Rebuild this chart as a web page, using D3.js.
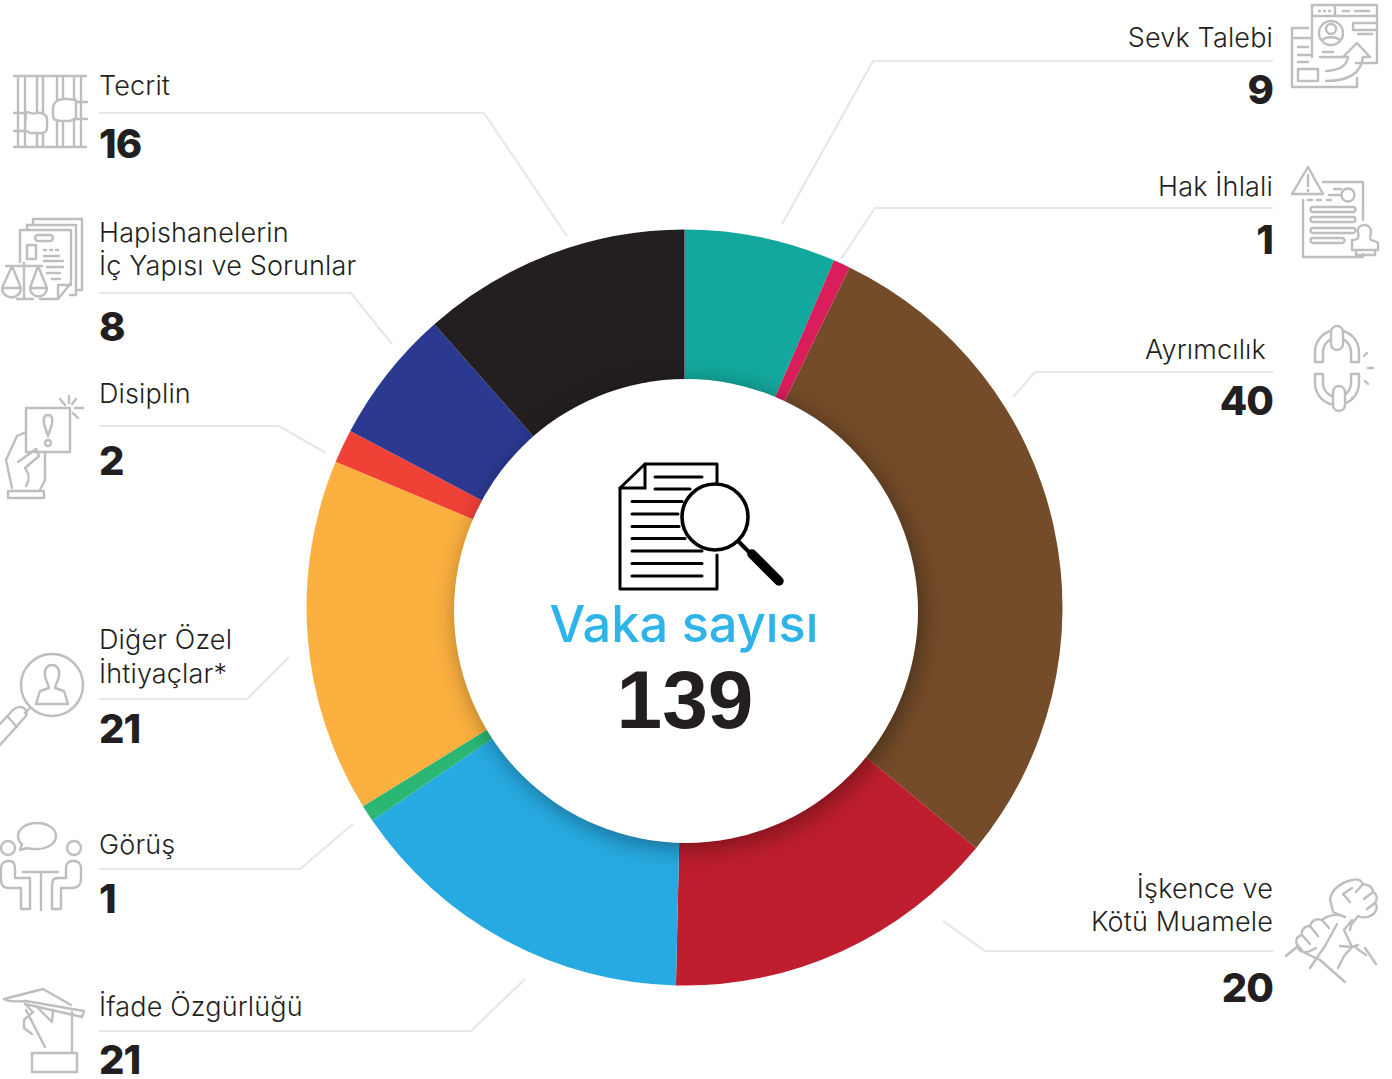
<!DOCTYPE html>
<html>
<head>
<meta charset="utf-8">
<script src="https://cdn.jsdelivr.net/npm/d3@7"></script>
<style>
html, body { margin: 0; padding: 0; background: #fff; }
.label { font-family: Inter, sans-serif; font-weight: 300; font-size: 27px; letter-spacing: 0.15px; fill: #231f20; }
.num { font-family: Inter, sans-serif; font-weight: 800; font-size: 40px; letter-spacing: -1px; fill: #231f20; }
.leader { fill: none; stroke: #e6e7e8; stroke-width: 2.2; }
.icon * { fill: none; stroke: #bcbec0; stroke-width: 2.4; stroke-linejoin: round; stroke-linecap: round; }
.icon .w { fill: #fff; }
.doc * { fill: none; stroke: #000; stroke-width: 3; stroke-linecap: round; stroke-linejoin: miter; }
</style>
</head>
<body>
<script>
const WIDTH = 1392;
const HEIGHT = 1079;

// clockwise from 12 o'clock
const categories = ['Sevk Talebi', 'Hak İhlali', 'Ayrımcılık', 'İşkence ve Kötü Muamele', 'İfade Özgürlüğü', 'Görüş', 'Diğer Özel İhtiyaçlar*', 'Disiplin', 'Hapishanelerin İç Yapısı ve Sorunlar', 'Tecrit'];
const values = [9, 1, 40, 20, 21, 1, 21, 2, 8, 16];
const total = 139;
const centerTitle = 'Vaka sayısı';
const colors = ['#13a89e', '#d91e5b', '#754c29', '#be1e2d', '#27aae1', '#2bb673', '#fbb040', '#ef4136', '#2b3990', '#231f20'];

// label block layout, same order as categories
const lines = [['Sevk Talebi'], ['Hak İhlali'], ['Ayrımcılık'], ['İşkence ve', 'Kötü Muamele'], ['İfade Özgürlüğü'], ['Görüş'], ['Diğer Özel', 'İhtiyaçlar*'], ['Disiplin'], ['Hapishanelerin', 'İç Yapısı ve Sorunlar'], ['Tecrit']];
const layout = [
    {side: 'r', x: 1273, y: [47], num: 104, leader: [[1273, 61], [873, 61], [782, 224]]},
    {side: 'r', x: 1273, y: [196], num: 254, leader: [[1273, 208], [875, 208], [841, 259]]},
    {side: 'r', x: 1266, y: [359], num: 415, numX: 1273, leader: [[1273, 372], [1035, 372], [1013, 397]]},
    {side: 'r', x: 1273, y: [898, 931], num: 1002, leader: [[1273, 951], [985, 951], [943, 921]]},
    {side: 'l', x: 99, y: [1016], num: 1074, leader: [[99, 1031], [471, 1031], [525, 979]]},
    {side: 'l', x: 99, y: [854], num: 913, leader: [[99, 869], [300, 869], [353, 824]]},
    {side: 'l', x: 99, y: [649, 683], num: 743, leader: [[99, 699], [247, 699], [289, 657]]},
    {side: 'l', x: 99, y: [403], num: 475, leader: [[99, 426], [279, 426], [326, 453]]},
    {side: 'l', x: 99, y: [242, 275], num: 341, leader: [[99, 293], [351, 293], [392, 344]]},
    {side: 'l', x: 99, y: [95], num: 158, leader: [[99, 113], [484, 113], [567, 236]]}
];

const svg = d3.select('body').append('svg')
    .attr('width', WIDTH)
    .attr('height', HEIGHT)
    .style('display', 'block');

const defs = svg.append('defs');
defs.append('filter').attr('id', 'soft')
    .attr('x', '-20%').attr('y', '-20%').attr('width', '140%').attr('height', '140%')
    .append('feGaussianBlur').attr('stdDeviation', 12);

// donut
const pie = d3.pie().sort(null).value(function (d) { return d; });
const arc = d3.arc().innerRadius(215).outerRadius(378);

const donut = svg.append('g').attr('transform', 'translate(684.5,607.5)');
donut.selectAll('path').data(pie(values)).enter().append('path')
    .attr('d', arc)
    .attr('fill', function (d, i) { return colors[i]; });

// the hole sits a little off centre in the original, with a soft shadow under it
svg.append('circle').attr('cx', 690).attr('cy', 616).attr('r', 232)
    .attr('fill', '#000').attr('opacity', 0.38).attr('filter', 'url(#soft)');
svg.append('circle').attr('cx', 686).attr('cy', 611).attr('r', 232).attr('fill', '#fff');

// leaders and labels
const lineGen = d3.line();
const labels = svg.append('g');
layout.forEach(function (l, i) {
    labels.append('path').attr('class', 'leader').attr('d', lineGen(l.leader));
    lines[i].forEach(function (t, j) {
        labels.append('text').attr('class', 'label')
            .attr('x', l.x).attr('y', l.y[j])
            .attr('text-anchor', l.side === 'r' ? 'end' : 'start')
            .text(t);
    });
    labels.append('text').attr('class', 'num')
        .attr('x', l.numX || l.x).attr('y', l.num)
        .attr('text-anchor', l.side === 'r' ? 'end' : 'start')
        .text(values[i]);
});

// centre text
svg.append('text').attr('x', 684).attr('y', 642)
    .attr('text-anchor', 'middle')
    .style('font-family', 'Inter, sans-serif').style('font-weight', 500).style('font-size', '50.5px')
    .attr('fill', '#2fb4e9')
    .text(centerTitle);
svg.append('text').attr('x', 685).attr('y', 728)
    .attr('text-anchor', 'middle')
    .style('font-family', '"Liberation Sans", sans-serif').style('font-weight', 700).style('font-size', '82px')
    .attr('fill', '#231f20')
    .text(total);

// centre document icon
const doc = svg.append('g').attr('class', 'doc');
doc.append('path').attr('d', 'M717,483V464H645L620,488V589H717V555').style('stroke-linejoin', 'round');
doc.append('path').attr('d', 'M645,464V488H620');
[[655, 702, 477], [655, 690, 489], [632, 682, 501.5], [632, 678, 514], [632, 679, 526.5], [632, 685, 538.5], [632, 702, 551], [632, 702, 563.5], [632, 702, 576]].forEach(function (r) {
    doc.append('line').attr('x1', r[0]).attr('x2', r[1]).attr('y1', r[2]).attr('y2', r[2]);
});
doc.append('circle').attr('cx', 715).attr('cy', 517).attr('r', 33).style('stroke-width', 3.6);
doc.append('line').attr('x1', 739).attr('y1', 542).attr('x2', 750).attr('y2', 553).style('stroke-width', 4);
doc.append('line').attr('x1', 752).attr('y1', 554).attr('x2', 779).attr('y2', 581).style('stroke-width', 9.5);

// grey pictograms next to the labels
const icons = svg.append('g').attr('class', 'icon');
function icon(d) { icons.append('path').attr('d', d); }
function iconW(d) { icons.append('path').attr('class', 'w').attr('d', d); }

// Tecrit
icon('M14,76H86M14,147H86M18,76V147M25,76V147M37,76V147M43,76V147M57,76V147M63,76V147M74,76V147M81,76V147');
icon('M14,113H26M14,131H26M75,102H87M75,119H87');
iconW('M26,112C30,112 32,115 36,113C42,112 47,115 47,119V128C47,132 43,134 38,133H30L25,130Z');
iconW('M76,100C70,100 68,98 63,99C56,100 53,104 53,108V116C53,120 57,121 62,121H70L76,118Z');

// Hapishanelerin
icon('M33,225V219H82V290H76M27,230V225H76V295H70');
icon('M20,262V230H71V283L58,299H40M58,299V285H71');
icon('M38,235H50A3,3 0 0 1 50,241H38A3,3 0 0 1 38,235ZM27,245H36V259H27Z');
icon('M44,250H46M50,250H52M56,250H58M44,256H59M44,261H63M47,267H63M47,273H60M52,279H60');
icon('M24,263V297M17,299H33M6,266H42M12,266L2,288H21ZM2,288A9.5,9.5 0 0 0 21,288M38,266L30,288H47ZM30,288A8.5,8.5 0 0 0 47,288');

// Disiplin
icon('M26,408H70V452H26Z');
icon('M48,415C44,415 43,419 44,424L48,436L52,424C53,419 52,415 48,415Z');
icon('M51,443A3,3 0 1 1 45,443A3,3 0 1 1 51,443Z');
icon('M69,396V403M60,399L65,405M76,399L72,404M75,408H83M73,413L78,418');
icon('M26,432L17,436L6,460L12,488M45,452V480L40,490M18,462L36,449L39,456L25,468C30,475 30,480 26,486');
icon('M8,491H44V498H8Z');

// Diğer Özel
icon('M52,654A31,31 0 1 1 52,716A31,31 0 1 1 52,654Z');
icon('M52,665C46,665 44,671 45,676C46,682 49,685 49,688L40,691L36,704H68L64,691L55,688C55,685 58,682 59,676C60,671 58,665 52,665Z');
icon('M30,708L25,713M0,724L13,710C17,706 22,706 25,709C27,712 27,715 25,717L0,745M7,716L17,727');

// Görüş
icon('M37,823C48,823 56,829 56,836C56,843 48,849 37,849C34,849 30,849 27,848L20,850L22,844C19,842 18,839 18,836C18,829 26,823 37,823Z');
icon('M15,848A7,7 0 1 1 1,848A7,7 0 1 1 15,848ZM81,848A7,7 0 1 1 67,848A7,7 0 1 1 81,848Z');
icon('M23,872H58M41,872V910');
icon('M8,861H10C14,861 15,865 15,869V878H30V909H21V888H8C3,888 1,884 1,880V868C1,864 4,861 8,861Z');
icon('M74,861H72C68,861 66,865 66,869V878H58C52,878 52,882 52,888V909H61V888H72C78,888 81,884 81,880V868C81,864 78,861 74,861Z');

// İfade
icon('M4,999L43,989L71,1005M4,999C10,1003 20,1001 26,1001L84,1011L82,1017L25,1004');
icon('M25,1004L33,1012L24,1020L24,1028L32,1034M26,1010L45,1047M72,1012V1052M36,1006L52,1022L53,1010');
icon('M32,1053H77V1072H32Z');

// Sevk Talebi
icon('M1312,57V5H1377V63H1356M1312,16H1377M1335,5V16M1319,11H1320M1324,11H1325M1329,11H1330M1343,11H1349M1355,11H1369');
icon('M1343,33A12,12 0 1 1 1319,33A12,12 0 1 1 1343,33ZM1336,29A5,5 0 1 1 1326,29A5,5 0 1 1 1336,29ZM1322,41C1324,36 1338,36 1340,41');
icon('M1377,23H1353V30H1377M1358,34H1372M1323,52H1333M1320,57H1343');
icon('M1308,28H1292V87H1357V78M1292,38H1312M1298,47H1308M1298,55H1310M1298,62H1308M1298,69H1318V81H1298Z');
icon('M1326,81C1345,81 1361,75 1363,57H1370L1357,43L1343,57H1348C1347,66 1340,70 1326,71');

// Hak İhlali
icon('M1308,167L1292,194H1323ZM1308,175V186M1308,190V191');
icon('M1323,182H1363V220M1303,200V257H1363V254M1334,189H1341M1329,195H1341M1308,200H1312M1317,200H1321M1327,200H1331');
icon('M1354.500,195A6.500,6.500 0 1 1 1341.500,195A6.500,6.500 0 1 1 1354.500,195Z');
[207, 217, 228, 238].forEach(function (y, i) {
    icon('M1313,' + y + 'H' + (i === 3 ? 1342 : 1353) + 'A2.500,2.500 0 0 1 ' + (i === 3 ? 1342 : 1353) + ',' + (y + 5) + 'H1313A2.500,2.500 0 0 1 1313,' + y + 'Z');
});
icon('M1352,243V240C1359,240 1359,236 1358,232C1356,224 1370,222 1371,231C1371,236 1369,238 1371,240C1373,241 1377,241 1378,243V250H1352ZM1356,250V255H1375V250');

// Ayrımcılık
icon('M1315,362V352A22,22 0 0 1 1359,352V362H1351V352A14,14 0 0 0 1323,352V362Z');
iconW('M1331,332A6,6 0 0 1 1343,332V344A6,6 0 0 1 1331,344Z');
icon('M1315,374V383A22,22 0 0 0 1359,383V374H1351V383A14,14 0 0 1 1323,383V374Z');
iconW('M1333,392A6,6 0 0 1 1345,392V405A6,6 0 0 1 1333,405Z');
icon('M1367,353L1364,356M1368,368H1373M1365,381L1368,384M1352,398H1353');

// İşkence ve Kötü Muamele
icon('M1330,899C1332,890 1340,883 1352,880C1358,878 1362,881 1363,884C1370,885 1373,888 1373,892C1377,894 1378,899 1375,903C1378,906 1377,912 1372,915C1368,918 1361,918 1358,916L1351,925L1350,930');
icon('M1352,888L1343,894L1350,902M1363,884L1356,892M1373,892L1364,899M1375,903L1367,909');
icon('M1330,899L1333,912L1345,917M1352,920L1344,930L1352,947L1358,945M1365,948L1376,964');
icon('M1345,917C1338,913 1328,915 1322,920C1316,918 1311,921 1310,926C1304,926 1301,930 1302,935C1296,936 1295,942 1298,946C1298,951 1304,954 1310,951L1316,948');
icon('M1322,920L1329,928M1310,926L1318,936M1302,935L1310,944M1298,946L1302,950');
icon('M1337,924L1325,946L1310,968M1298,946L1286,956M1305,953L1320,960L1345,982M1340,946L1352,947L1344,956L1338,968M1356,948L1366,955');
</script>
</body>
</html>
